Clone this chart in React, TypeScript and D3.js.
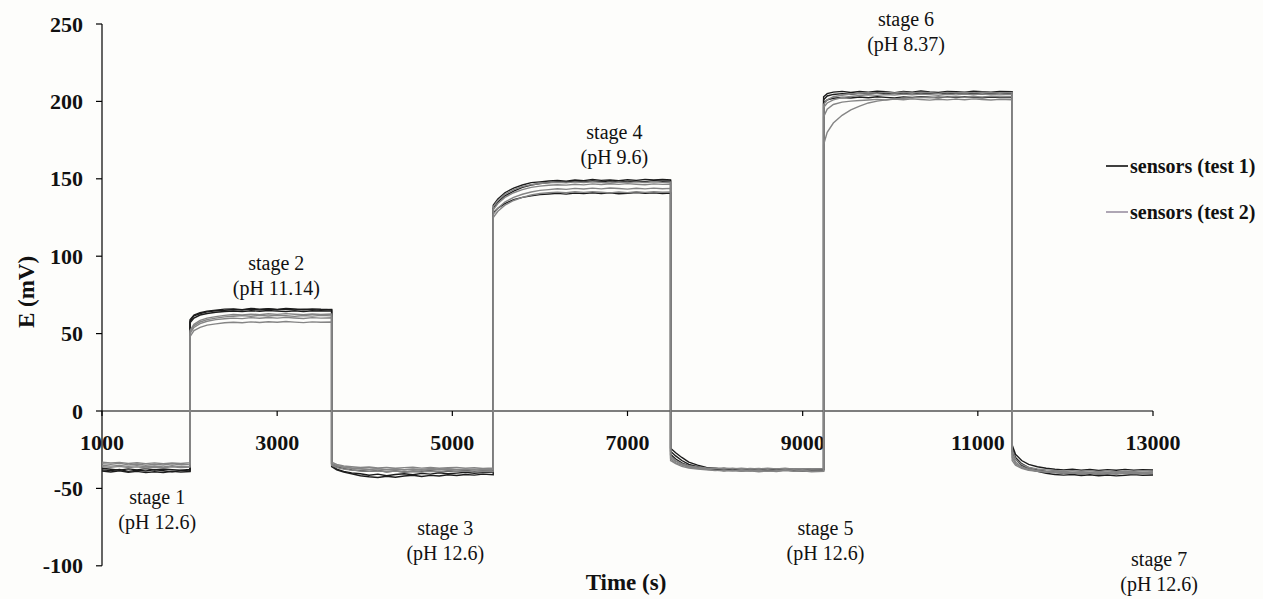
import React from "react";
import * as d3 from "d3";

// Sampling times (s) for each of the seven stages; each stage starts where the previous ends
const stageTimes: number[][] = [
  [1000, 1100, 1200, 1300, 1400, 1500, 1600, 1700, 1800, 1900, 2005],
  [2005, 2050, 2120, 2200, 2300, 2400, 2500, 2600, 2700, 2800, 2900, 3000, 3100, 3200, 3300, 3400, 3500, 3622],
  [3622, 3680, 3760, 3850, 3950, 4050, 4150, 4250, 4350, 4450, 4550, 4650, 4750, 4850, 4950, 5050, 5150, 5250, 5350, 5467],
  [5467, 5520, 5600, 5700, 5800, 5900, 6000, 6100, 6200, 6300, 6400, 6500, 6600, 6700, 6800, 6900, 7000, 7100, 7200, 7300, 7400, 7492],
  [7492, 7550, 7620, 7700, 7800, 7900, 8000, 8100, 8200, 8300, 8400, 8500, 8600, 8700, 8800, 8900, 9000, 9100, 9239],
  [9239, 9280, 9350, 9450, 9550, 9650, 9750, 9850, 9950, 10050, 10150, 10250, 10350, 10450, 10550, 10650, 10750, 10850, 10950, 11050, 11150, 11250, 11392],
  [11392, 11430, 11500, 11580, 11680, 11780, 11880, 11980, 12080, 12180, 12280, 12380, 12480, 12580, 12680, 12780, 12880, 13000],
];

// Potential readings (mV), test 1 sensors
const test1SensorA: number[][] = [
  [-38, -38.5, -37.8, -39, -38.2, -38.8, -37.9, -38.6, -39.2, -38.4, -38.8],
  [59, 62, 63.5, 64.5, 65.2, 65.8, 66, 65.5, 66.3, 65.8, 66.1, 65.6, 66.2, 65.9, 65.4, 66, 65.7, 65.5],
  [-35, -37.5, -39, -40, -40.5, -41.5, -40.8, -41.8, -41, -40.5, -41.2, -40.3, -40.8, -39.9, -40.5, -40.1, -39.6, -40.2, -39.8, -39.5],
  [133, 137, 141, 144, 146, 147.5, 148, 148.6, 149, 148.5, 149.2, 148.8, 149.5, 149, 149.3, 148.7, 149.4, 149, 149.6, 149.2, 149.5, 149.3],
  [-24, -27, -30, -33, -35, -36.5, -37, -37.8, -37.2, -38, -37.5, -38.2, -37.6, -38.1, -37.4, -38, -37.7, -38.3, -37.9],
  [203, 205, 206, 206.5, 205.8, 206.4, 205.9, 206.6, 206.2, 205.7, 206.4, 206, 206.7, 206.1, 205.8, 206.5, 206.2, 205.9, 206.6, 206.3, 206, 206.4, 206.2],
  [-24, -30, -34, -36.5, -38, -39, -39.6, -40.2, -39.8, -40.5, -40, -40.8, -40.2, -40.6, -40.1, -40.7, -40.3, -40.5],
];
const test1SensorB: number[][] = [
  [-37, -37.6, -38.2, -37.4, -38, -37.2, -38.1, -37.5, -37.9, -38.3, -37.8],
  [58, 61.5, 63, 64, 64.8, 65, 65.6, 65.2, 65.8, 65.3, 65.9, 65.4, 65.7, 65.2, 65.8, 65.5, 65.1, 65.6],
  [-36, -38, -39.5, -40.5, -41.8, -42.5, -43, -42.2, -42.8, -42, -41.5, -42.3, -41.6, -42, -41.2, -41.7, -41, -41.4, -40.8, -41.2],
  [131, 135, 139, 142, 144.5, 146, 147, 147.5, 148.2, 147.8, 148.4, 148, 148.6, 148.1, 148.7, 148.3, 148, 148.5, 148.2, 148.8, 148.4, 148.6],
  [-26, -29, -32, -34.5, -36, -37, -37.8, -38.4, -38, -38.6, -38.2, -38.8, -38.3, -38.7, -38.1, -38.5, -38.9, -38.4, -38.6],
  [201, 203.5, 204.5, 205, 204.6, 205.2, 204.8, 205.4, 205, 205.6, 205.1, 204.7, 205.3, 205, 205.5, 204.9, 205.2, 205.6, 205.1, 204.8, 205.4, 205, 205.2],
  [-26, -31, -35, -37.5, -39, -40.2, -41, -41.4, -41, -41.7, -41.2, -41.8, -41.3, -41.9, -41.5, -41.1, -41.6, -41.3],
];
const test1SensorC: number[][] = [
  [-38.8, -39.4, -38.6, -39.6, -39, -39.8, -39.2, -39.7, -38.9, -39.5, -39.1],
  [57, 60, 62, 63, 63.8, 64.3, 64.6, 64.2, 64.8, 64.4, 64.9, 64.5, 64.2, 64.7, 64.3, 64.8, 64.5, 64.6],
  [-34, -36, -37.2, -38, -38.6, -39, -38.5, -39.2, -38.8, -39.4, -38.9, -39.1, -38.6, -39.3, -38.8, -39, -38.5, -39.1, -38.7, -38.9],
  [128, 131, 134, 136.5, 138, 139, 139.8, 140.2, 140.6, 140.1, 140.8, 140.4, 141, 140.5, 140.9, 140.3, 140.7, 141.1, 140.6, 140.9, 140.5, 140.8],
  [-28, -31, -33.5, -35.5, -36.5, -37.2, -37.6, -37.1, -37.8, -37.3, -37.9, -37.4, -37.7, -37.2, -37.8, -37.5, -37.9, -37.3, -37.6],
  [199, 201, 202, 202.5, 202.2, 202.8, 202.4, 203, 202.6, 202.2, 202.9, 202.5, 203.1, 202.7, 202.3, 202.9, 202.5, 203, 202.6, 202.4, 202.8, 202.5, 202.7],
  [-22, -28, -32, -34.5, -36, -37, -37.6, -38, -37.6, -38.2, -37.8, -38.4, -37.9, -38.3, -37.7, -38.2, -37.9, -38.1],
];

// Potential readings (mV), test 2 sensors
const test2SensorA: number[][] = [
  [-34, -34.5, -33.8, -34.8, -34.2, -35, -34.4, -34.9, -34.1, -34.7, -34.3],
  [52, 56, 58.5, 60, 61, 61.8, 62.3, 62, 62.6, 62.2, 62.8, 62.4, 62.9, 62.5, 62.2, 62.7, 62.4, 62.6],
  [-33, -34.5, -35.5, -36, -36.5, -36.2, -36.8, -36.4, -37, -36.6, -36.3, -36.9, -36.5, -37, -36.7, -36.4, -36.9, -36.6, -37.1, -36.8],
  [130, 134, 138, 141, 143, 144.5, 145.3, 145.8, 146.2, 145.9, 146.5, 146.1, 146.7, 146.3, 146.8, 146.4, 146.9, 146.5, 146.2, 146.7, 146.4, 146.6],
  [-30, -32.5, -34.5, -36, -37, -37.6, -38.2, -38.8, -38.4, -39, -38.6, -39.2, -38.7, -39.1, -38.5, -39, -38.7, -39.2, -38.9],
  [196, 199, 201, 202.5, 203.2, 203.8, 204.2, 203.9, 204.5, 204.1, 204.7, 204.3, 204.8, 204.4, 204, 204.6, 204.2, 204.7, 204.3, 204.9, 204.5, 204.2, 204.6],
  [-28, -33, -36, -37.5, -38.5, -39, -39.4, -39.1, -39.6, -39.2, -39.8, -39.3, -39.7, -39.2, -39.6, -39.4, -39.8, -39.5],
];
const test2SensorB: number[][] = [
  [-35, -35.6, -35.2, -35.8, -35.3, -36, -35.5, -36.1, -35.4, -35.9, -35.6],
  [50, 54, 56.5, 58, 59, 59.6, 60, 59.7, 60.3, 59.9, 60.4, 60, 60.5, 60.1, 59.8, 60.3, 60, 60.2],
  [-34, -35.2, -36.4, -37, -37.5, -37.9, -37.4, -38, -37.6, -38.2, -37.7, -38.3, -37.8, -38.1, -37.5, -38, -37.7, -38.2, -37.8, -38],
  [127, 131, 135, 138, 140, 141.5, 142.5, 143, 143.6, 143.2, 143.8, 143.4, 144, 143.5, 144.1, 143.7, 143.3, 143.9, 143.5, 144, 143.6, 143.8],
  [-31, -33.5, -35, -36.2, -36.8, -37.2, -36.8, -37.4, -37, -37.6, -37.1, -37.5, -36.9, -37.4, -37, -37.6, -37.2, -37.5, -37.3],
  [172, 180, 186, 191, 194.5, 197, 199, 200.2, 201, 201.6, 202, 202.3, 202.7, 202.4, 203, 202.6, 203.1, 202.7, 203.2, 202.8, 203.3, 202.9, 203.1],
  [-30, -34, -36.5, -38, -38.8, -39.3, -39.8, -40.3, -39.9, -40.5, -40.1, -40.7, -40.2, -40.6, -40.1, -40.5, -40.2, -40.4],
];
const test2SensorC: number[][] = [
  [-36, -36.4, -35.8, -36.6, -36.1, -36.8, -36.3, -36.7, -36, -36.5, -36.2],
  [48, 52, 54, 55.5, 56.3, 57, 57.3, 57, 57.6, 57.2, 57.7, 57.3, 57.8, 57.4, 57.1, 57.6, 57.3, 57.5],
  [-35, -36.5, -37.5, -38.2, -38.7, -39, -38.6, -39.2, -38.8, -39.3, -38.9, -39.4, -38.9, -39.2, -38.7, -39.1, -38.8, -39.3, -38.9, -39.1],
  [125, 129, 133, 136, 138, 139.5, 140.5, 141, 141.4, 141, 141.6, 141.2, 141.7, 141.3, 140.9, 141.5, 141.1, 141.6, 141.2, 141.7, 141.3, 141.5],
  [-29, -32, -34, -35.5, -36.2, -36.8, -37.2, -36.8, -37.4, -37, -37.5, -37.1, -37.6, -37.2, -37.7, -37.3, -37.6, -37.2, -37.4],
  [190, 195, 198, 199.5, 200.2, 200.6, 200.9, 201.3, 200.9, 201.5, 201.1, 201.6, 201.2, 200.8, 201.4, 201, 201.5, 201.1, 201.6, 201.2, 200.9, 201.3, 201.1],
  [-25, -31, -34.5, -36.5, -37.5, -38, -38.4, -38.9, -38.5, -39, -38.6, -39.1, -38.7, -39.2, -38.8, -39, -38.6, -38.9],
];
const test2SensorD: number[][] = [
  [-33, -33.6, -33.2, -33.9, -33.4, -34, -33.5, -34.1, -33.6, -33.9, -33.4],
  [51, 55, 57.5, 59, 60, 60.8, 61.2, 61.6, 61.2, 61.8, 61.4, 61.9, 61.5, 61.1, 61.7, 61.3, 61.8, 61.5],
  [-34, -35.5, -36.2, -36.8, -37.2, -37.6, -37.2, -37.8, -37.3, -37.9, -37.4, -37.7, -37.1, -37.6, -37.2, -37.8, -37.4, -37.6, -37.2, -37.5],
  [132, 136, 140, 143, 145, 146.2, 147, 147.4, 147.8, 147.4, 148, 147.6, 148.1, 147.7, 147.3, 147.9, 147.5, 148, 147.6, 148.1, 147.7, 147.9],
  [-32, -34, -35.8, -36.8, -37.5, -38, -38.5, -38.1, -38.7, -38.3, -38.8, -38.4, -38.9, -38.5, -38.2, -38.7, -38.4, -38.8, -38.5],
  [198, 201, 203, 204, 204.8, 205.2, 205.6, 205.2, 205.8, 205.4, 205.9, 205.5, 206, 205.6, 205.2, 205.8, 205.4, 205.9, 205.5, 206, 205.6, 205.3, 205.7],
  [-32, -35, -37, -38.3, -39, -39.5, -39.9, -39.5, -40.1, -39.7, -40.2, -39.8, -40.3, -39.9, -40.2, -39.8, -40.1, -39.9],
];

const test1Series = [test1SensorA, test1SensorB, test1SensorC];
const test2Series = [test2SensorA, test2SensorB, test2SensorC, test2SensorD];

const xTicks = [1000, 3000, 5000, 7000, 9000, 11000, 13000];
const yTicks = [-100, -50, 0, 50, 100, 150, 200, 250];

// Stage annotations: label, pH, anchor time and potential (baseline of first line)
const stageLabels = ["stage 1", "stage 2", "stage 3", "stage 4", "stage 5", "stage 6", "stage 7"];
const stagePH = ["(pH 12.6)", "(pH 11.14)", "(pH 12.6)", "(pH 9.6)", "(pH 12.6)", "(pH 8.37)", "(pH 12.6)"];
const stageLabelTime = [1630, 2990, 4920, 6850, 9260, 10180, 13070];
const stageLabelMV = [-60, 91, -80, 176, -80, 249, -100];

const legendLabels = ["sensors (test 1)", "sensors (test 2)"];

const W = 1263;
const H = 599;
const FONT = "'Liberation Serif', 'Times New Roman', Times, serif";

type Pt = { t: number; v: number };

function toPoints(stages: number[][]): Pt[] {
  const pts: Pt[] = [];
  stages.forEach((vals, s) => {
    const ts = stageTimes[s];
    vals.forEach((v, i) => {
      if (ts[i] !== undefined) pts.push({ t: ts[i], v });
    });
  });
  return pts;
}

export default function App() {
  const x = d3.scaleLinear().domain([1000, 13000]).range([102, 1153]);
  const y = d3.scaleLinear().domain([-100, 250]).range([565.8, 24]);

  const line = d3
    .line<Pt>()
    .x((d) => x(d.t))
    .y((d) => y(d.v));

  const black = "#1c1c1c";
  const gray = "#858585";

  return (
    <svg
      width={W}
      height={H}
      style={{ position: "absolute", left: 0, top: 0, background: "#fdfdfb", fontFamily: FONT }}
    >
      <rect x={0} y={0} width={W} height={H} fill="#fdfdfb" />

      {/* y axis */}
      <line x1={x(1000)} x2={x(1000)} y1={y(-100)} y2={y(250)} stroke="#000" strokeWidth={1.2} />
      {yTicks.map((t) => (
        <g key={t}>
          <line x1={x(1000) - 6} x2={x(1000)} y1={y(t)} y2={y(t)} stroke="#000" strokeWidth={1.2} />
          <text
            x={83}
            y={y(t)}
            textAnchor="end"
            dominantBaseline="central"
            fontSize={22}
            fontWeight="bold"
            fill="#111"
          >
            {t}
          </text>
        </g>
      ))}

      {/* x axis at zero */}
      <line x1={x(1000)} x2={x(13000)} y1={y(0)} y2={y(0)} stroke="#000" strokeWidth={1.2} />
      {xTicks.map((t) => (
        <g key={t}>
          <line x1={x(t)} x2={x(t)} y1={y(0)} y2={y(0) + 5} stroke="#000" strokeWidth={1.2} />
          <text
            x={x(t)}
            y={y(0) + 31}
            textAnchor="middle"
            dominantBaseline="central"
            fontSize={22}
            fontWeight="bold"
            fill="#111"
          >
            {t}
          </text>
        </g>
      ))}

      {/* sensor traces */}
      {test1Series.map((s, i) => (
        <path key={"t1" + i} d={line(toPoints(s)) || ""} fill="none" stroke={black} strokeWidth={1.4} />
      ))}
      {test2Series.map((s, i) => (
        <path key={"t2" + i} d={line(toPoints(s)) || ""} fill="none" stroke={gray} strokeWidth={1.4} />
      ))}

      {/* stage annotations */}
      {stageLabels.map((lab, i) => (
        <text
          key={lab}
          x={x(stageLabelTime[i])}
          y={y(stageLabelMV[i])}
          textAnchor="middle"
          fontSize={20}
          fill="#111"
        >
          <tspan x={x(stageLabelTime[i])} dy="0">{lab}</tspan>
          <tspan x={x(stageLabelTime[i])} dy="25">{stagePH[i]}</tspan>
        </text>
      ))}

      {/* axis titles */}
      <text x={626} y={582} textAnchor="middle" dominantBaseline="central" fontSize={23} fontWeight="bold" fill="#111">
        Time (s)
      </text>
      <text
        transform={`translate(26,292) rotate(-90)`}
        textAnchor="middle"
        dominantBaseline="central"
        fontSize={23}
        fontWeight="bold"
        fill="#111"
      >
        E (mV)
      </text>

      {/* legend */}
      {legendLabels.map((lab, i) => (
        <g key={lab} transform={`translate(1106, ${166 + i * 46})`}>
          <line x1={0} x2={22} y1={0} y2={0} stroke={i === 0 ? "#111" : "#9a90a3"} strokeWidth={1.6} />
          <text x={24} y={0} dominantBaseline="central" fontSize={20} fontWeight="bold" fill="#111">
            {lab}
          </text>
        </g>
      ))}
    </svg>
  );
}
